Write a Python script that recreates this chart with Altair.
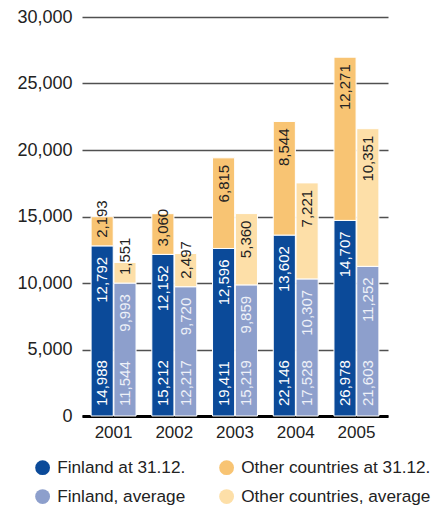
import altair as alt
import pandas as pd

years = ["2001", "2002", "2003", "2004", "2005"]
fin_end = [12792, 12152, 12596, 13602, 14707]
oth_end = [2193, 3060, 6815, 8544, 12271]
fin_avg = [9993, 9720, 9859, 10307, 11252]
oth_avg = [1551, 2497, 5360, 7221, 10351]
tot_end = [14988, 15212, 19411, 22146, 26978]
tot_avg = [11544, 12217, 15219, 17528, 21603]
series = ["Finland at 31.12.", "Finland, average",
          "Other countries at 31.12.", "Other countries, average"]
colors = ["#0b4a99", "#8d9fcc", "#f8c473", "#fddfa8"]
y_ticks = [0, 5000, 10000, 15000, 20000, 25000, 30000]

seg_rows, fin_rows, oth_rows, tot_rows = [], [], [], []
for i, yr in enumerate(years):
    for bar, fin, oth, tot, fs, os_, fc in [
        ("end", fin_end[i], oth_end[i], tot_end[i], series[0], series[2], "#ffffff"),
        ("avg", fin_avg[i], oth_avg[i], tot_avg[i], series[1], series[3], "#eef1f8"),
    ]:
        seg_rows.append(dict(year=yr, bar=bar, series=fs, y0=0, y1=fin))
        seg_rows.append(dict(year=yr, bar=bar, series=os_, y0=fin, y1=fin + oth))
        fin_rows.append(dict(year=yr, bar=bar, y=fin, label=f"{fin:,}", tc=fc))
        oth_rows.append(dict(year=yr, bar=bar, top=fin + oth, bottom=fin,
                             small=oth < 4000, label=f"{oth:,}"))
        tot_rows.append(dict(year=yr, bar=bar, y=0, label=f"{tot:,}", tc=fc))

seg = pd.DataFrame(seg_rows)
fin_df = pd.DataFrame(fin_rows)
oth_df = pd.DataFrame(oth_rows)
tot_df = pd.DataFrame(tot_rows)

FONT = "Liberation Sans"

X = alt.X("year:N", sort=years,
          scale=alt.Scale(paddingInner=0.26, paddingOuter=0.15),
          axis=alt.Axis(title=None, labelAngle=0, labelFontSize=17, ticks=False,
                        domainColor="black", domainWidth=3, labelPadding=8,
                        labelColor="#222222", labelFont=FONT))
XO = alt.XOffset("bar:N", sort=["end", "avg"],
                 scale=alt.Scale(domain=["end", "avg"], paddingInner=0.03))

bars = alt.Chart(seg).mark_bar(stroke="white", strokeWidth=1).encode(
    x=X, xOffset=XO,
    y=alt.Y("y0:Q", scale=alt.Scale(domain=[0, 30000], nice=False),
            axis=alt.Axis(title=None, values=y_ticks, format=",d", labelFontSize=18,
                          ticks=False, domain=False, gridColor="#505050",
                          gridWidth=1.5, labelPadding=10, labelColor="#222222",
                          labelFont=FONT)),
    y2="y1:Q",
    color=alt.Color("series:N", scale=alt.Scale(domain=series, range=colors),
                    legend=alt.Legend(title=None, orient="none", legendX=-48,
                                      legendY=442, columns=2, symbolType="circle",
                                      symbolSize=220, labelFontSize=17.2,
                                      labelFont=FONT, labelColor="#222222",
                                      labelLimit=400,
                                      columnPadding=32, rowPadding=11,
                                      labelOffset=6, symbolStrokeWidth=0)),
)

txt = dict(angle=270, baseline="middle", fontSize=15, font=FONT)

fin_text = alt.Chart(fin_df).mark_text(align="right", dx=-11, **txt).encode(
    x=X, xOffset=XO, y=alt.Y("y:Q", title=None), text="label:N",
    color=alt.Color("tc:N", scale=None))

tot_text = alt.Chart(tot_df).mark_text(align="left", dx=10, **txt).encode(
    x=X, xOffset=XO, y=alt.Y("y:Q", title=None), text="label:N",
    color=alt.Color("tc:N", scale=None))

oth_big = alt.Chart(oth_df).transform_filter("!datum.small").mark_text(
    align="right", dx=-7, color="#222222", **txt).encode(
    x=X, xOffset=XO, y=alt.Y("top:Q", title=None), text="label:N")

oth_small = alt.Chart(oth_df).transform_filter("datum.small").mark_text(
    align="left", dx=8, color="#222222", **txt).encode(
    x=X, xOffset=XO, y=alt.Y("bottom:Q", title=None), text="label:N")

chart = alt.layer(bars, fin_text, tot_text, oth_big, oth_small).properties(
    width=306, height=399,
    autosize=alt.AutoSizeParams(type="none"),
    padding={"left": 74, "top": 9, "right": 46, "bottom": 92},
).configure_view(stroke=None)

chart.save("out.html", embed_options={"renderer": "svg", "actions": False})
